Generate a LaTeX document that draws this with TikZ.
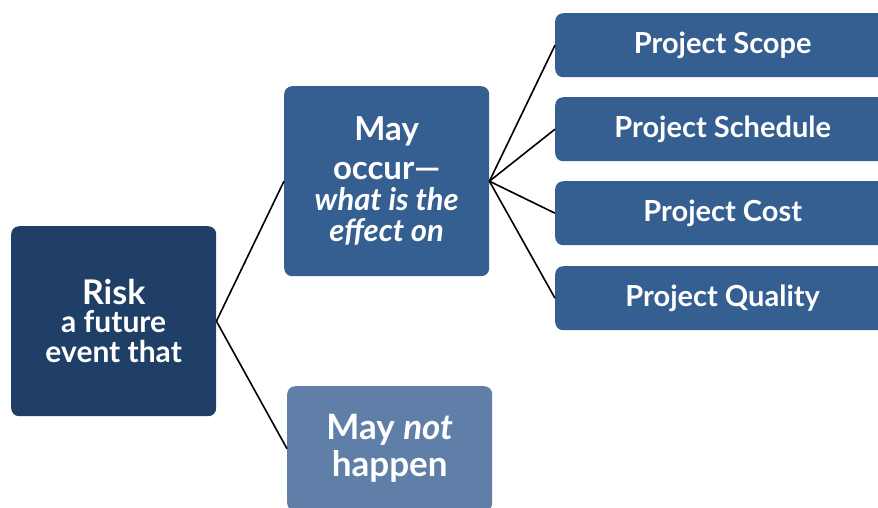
\documentclass[tikz,border=0pt]{standalone}
\usepackage{fontspec}
\setmainfont{Lato}
\definecolor{riskblue}{HTML}{1F3F66}
\definecolor{midblue}{HTML}{365F91}
\definecolor{paleblue}{HTML}{5F7FA8}
\begin{document}
\begin{tikzpicture}[x=1pt,y=-1pt,
  box/.style={rounded corners=8pt, text=white, align=center, inner sep=0pt,
    anchor=north west, font=\bfseries\fontsize{30}{30}\selectfont},
  projbox/.style={box, fill=midblue, minimum width=335pt, minimum height=64pt,
    font=\bfseries\fontsize{29}{30}\selectfont},
  line/.style={black, line width=1.6pt}]
  \useasboundingbox (0,0) rectangle (878,507);
  \clip (0,0) rectangle (878,507);

  %% left box
  \node[box, fill=riskblue, minimum width=205pt, minimum height=190pt] (risk) at (11,226)
    {{\fontsize{34}{34}\selectfont Risk}\\[-2pt]a future\\event that};

  %% middle boxes
  \node[box, fill=midblue, minimum width=205pt, minimum height=190pt,
    font=\bfseries\fontsize{33}{31}\selectfont] (occur) at (284,86)
    {May\\[8pt]occur---\\
     {\itshape\fontsize{31}{31}\selectfont what is the}\\{\itshape\fontsize{31}{31}\selectfont effect on}};
  \node[box, fill=paleblue, minimum width=205pt, minimum height=125pt,
    font=\bfseries\fontsize{35}{37}\selectfont] (notocc) at (287,386)
    {May \textit{not}\\happen};

  %% right boxes
  \node[projbox] (scope) at (555,13) {Project Scope};
  \node[projbox] (sched) at (555,97) {Project Schedule};
  \node[projbox] (cost) at (555,181) {Project Cost};
  \node[projbox] (qual) at (555,266) {Project Quality};

  %% connectors
  \draw[line] (risk.east) -- (occur.west);
  \draw[line] (risk.east) -- (notocc.west);
  \draw[line] (occur.east) -- (scope.west);
  \draw[line] (occur.east) -- (sched.west);
  \draw[line] (occur.east) -- (cost.west);
  \draw[line] (occur.east) -- (qual.west);
\end{tikzpicture}
\end{document}
